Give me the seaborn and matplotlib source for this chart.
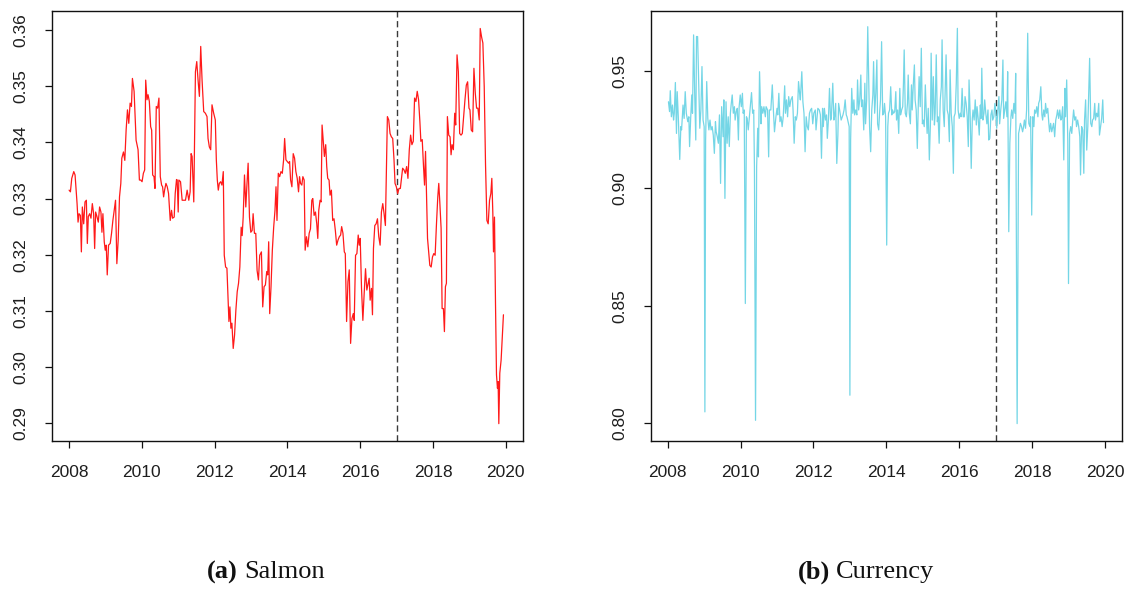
import matplotlib
matplotlib.use("Agg")
import matplotlib.pyplot as plt
import seaborn as sns

# ---------------------------------------------------------------- data
salmon_year = [
    2008.000, 2008.036, 2008.073, 2008.128, 2008.164, 2008.219, 2008.246, 2008.273, 2008.310, 2008.337,
    2008.364, 2008.401, 2008.437, 2008.474, 2008.501, 2008.528, 2008.565, 2008.601, 2008.638, 2008.674,
    2008.702, 2008.729, 2008.765, 2008.802, 2008.838, 2008.875, 2008.902, 2008.929, 2008.966, 2008.993,
    2009.021, 2009.048, 2009.084, 2009.130, 2009.166, 2009.203, 2009.239, 2009.276, 2009.312, 2009.349,
    2009.385, 2009.421, 2009.449, 2009.494, 2009.531, 2009.567, 2009.604, 2009.640, 2009.677, 2009.713,
    2009.740, 2009.786, 2009.841, 2009.895, 2009.932, 2009.968, 2010.005, 2010.041, 2010.077, 2010.105,
    2010.141, 2010.169, 2010.205, 2010.241, 2010.269, 2010.296, 2010.333, 2010.360, 2010.396, 2010.433,
    2010.469, 2010.506, 2010.542, 2010.569, 2010.597, 2010.624, 2010.661, 2010.697, 2010.733, 2010.779,
    2010.815, 2010.843, 2010.888, 2010.916, 2010.952, 2010.970, 2010.998, 2011.016, 2011.062, 2011.107,
    2011.153, 2011.198, 2011.244, 2011.289, 2011.326, 2011.353, 2011.380, 2011.426, 2011.472, 2011.508,
    2011.544, 2011.581, 2011.617, 2011.654, 2011.699, 2011.745, 2011.790, 2011.818, 2011.854, 2011.891,
    2011.927, 2011.973, 2012.018, 2012.046, 2012.073, 2012.100, 2012.128, 2012.164, 2012.200, 2012.237,
    2012.264, 2012.301, 2012.337, 2012.364, 2012.392, 2012.419, 2012.446, 2012.474, 2012.510, 2012.547,
    2012.583, 2012.620, 2012.656, 2012.692, 2012.729, 2012.756, 2012.784, 2012.820, 2012.856, 2012.884,
    2012.920, 2012.957, 2012.993, 2013.030, 2013.057, 2013.093, 2013.130, 2013.166, 2013.203, 2013.239,
    2013.285, 2013.321, 2013.358, 2013.394, 2013.431, 2013.458, 2013.485, 2013.513, 2013.549, 2013.585,
    2013.622, 2013.658, 2013.686, 2013.713, 2013.749, 2013.786, 2013.822, 2013.859, 2013.895, 2013.923,
    2013.959, 2013.995, 2014.032, 2014.059, 2014.087, 2014.123, 2014.159, 2014.196, 2014.232, 2014.269,
    2014.305, 2014.333, 2014.360, 2014.396, 2014.424, 2014.460, 2014.487, 2014.524, 2014.560, 2014.597,
    2014.633, 2014.670, 2014.697, 2014.733, 2014.770, 2014.806, 2014.834, 2014.861, 2014.897, 2014.925,
    2014.952, 2014.989, 2015.016, 2015.052, 2015.080, 2015.107, 2015.144, 2015.171, 2015.208, 2015.244,
    2015.280, 2015.317, 2015.353, 2015.390, 2015.426, 2015.462, 2015.490, 2015.526, 2015.563, 2015.590,
    2015.626, 2015.663, 2015.699, 2015.736, 2015.772, 2015.809, 2015.836, 2015.872, 2015.909, 2015.945,
    2015.973, 2016.000, 2016.036, 2016.073, 2016.109, 2016.146, 2016.182, 2016.210, 2016.246, 2016.273,
    2016.310, 2016.337, 2016.364, 2016.401, 2016.437, 2016.474, 2016.510, 2016.547, 2016.583, 2016.620,
    2016.656, 2016.692, 2016.720, 2016.747, 2016.784, 2016.820, 2016.856, 2016.893, 2016.929, 2016.957,
    2016.993, 2017.030, 2017.066, 2017.103, 2017.166, 2017.203, 2017.239, 2017.276, 2017.312, 2017.349,
    2017.385, 2017.421, 2017.458, 2017.494, 2017.531, 2017.567, 2017.604, 2017.640, 2017.667, 2017.704,
    2017.740, 2017.768, 2017.795, 2017.822, 2017.850, 2017.877, 2017.913, 2017.950, 2017.986, 2018.023,
    2018.059, 2018.096, 2018.132, 2018.159, 2018.187, 2018.223, 2018.251, 2018.287, 2018.314, 2018.342,
    2018.369, 2018.396, 2018.433, 2018.469, 2018.497, 2018.524, 2018.560, 2018.597, 2018.624, 2018.661,
    2018.697, 2018.733, 2018.770, 2018.806, 2018.843, 2018.879, 2018.916, 2018.952, 2018.989, 2019.016,
    2019.052, 2019.089, 2019.125, 2019.162, 2019.198, 2019.235, 2019.271, 2019.298, 2019.335, 2019.371,
    2019.408, 2019.444, 2019.481, 2019.517, 2019.554, 2019.590, 2019.617, 2019.645, 2019.663, 2019.690,
    2019.718, 2019.745, 2019.772, 2019.790, 2019.809, 2019.836, 2019.872, 2019.909, 2019.936,
]
salmon_value = [
    0.3315, 0.3312, 0.3336, 0.3348, 0.3342, 0.3291, 0.3258, 0.3273, 0.3270, 0.3205,
    0.3285, 0.3255, 0.3294, 0.3297, 0.3220, 0.3268, 0.3273, 0.3265, 0.3291, 0.3273,
    0.3211, 0.3276, 0.3268, 0.3258, 0.3285, 0.3276, 0.3240, 0.3273, 0.3223, 0.3208,
    0.3217, 0.3164, 0.3217, 0.3220, 0.3238, 0.3261, 0.3279, 0.3297, 0.3184, 0.3226,
    0.3303, 0.3327, 0.3372, 0.3383, 0.3368, 0.3422, 0.3458, 0.3434, 0.3470, 0.3464,
    0.3514, 0.3491, 0.3404, 0.3387, 0.3333, 0.3333, 0.3330, 0.3345, 0.3351, 0.3511,
    0.3476, 0.3485, 0.3473, 0.3428, 0.3422, 0.3342, 0.3339, 0.3318, 0.3464, 0.3461,
    0.3479, 0.3339, 0.3324, 0.3321, 0.3303, 0.3315, 0.3327, 0.3321, 0.3309, 0.3261,
    0.3279, 0.3265, 0.3267, 0.3309, 0.3334, 0.3333, 0.3276, 0.3333, 0.3330, 0.3297,
    0.3297, 0.3297, 0.3315, 0.3297, 0.3312, 0.3380, 0.3375, 0.3294, 0.3526, 0.3544,
    0.3511, 0.3482, 0.3571, 0.3511, 0.3455, 0.3452, 0.3446, 0.3407, 0.3392, 0.3387,
    0.3467, 0.3452, 0.3440, 0.3369, 0.3333, 0.3315, 0.3327, 0.3330, 0.3324, 0.3348,
    0.3199, 0.3178, 0.3176, 0.3131, 0.3081, 0.3107, 0.3069, 0.3078, 0.3033, 0.3057,
    0.3101, 0.3134, 0.3149, 0.3178, 0.3249, 0.3234, 0.3267, 0.3342, 0.3285, 0.3321,
    0.3363, 0.3267, 0.3240, 0.3243, 0.3273, 0.3238, 0.3238, 0.3172, 0.3155, 0.3199,
    0.3205, 0.3107, 0.3143, 0.3146, 0.3170, 0.3164, 0.3223, 0.3095, 0.3143, 0.3208,
    0.3249, 0.3279, 0.3321, 0.3261, 0.3345, 0.3339, 0.3348, 0.3345, 0.3369, 0.3407,
    0.3369, 0.3366, 0.3363, 0.3366, 0.3333, 0.3321, 0.3380, 0.3372, 0.3348, 0.3336,
    0.3312, 0.3339, 0.3327, 0.3324, 0.3339, 0.3333, 0.3208, 0.3232, 0.3214, 0.3238,
    0.3246, 0.3297, 0.3300, 0.3270, 0.3276, 0.3255, 0.3229, 0.3279, 0.3297, 0.3294,
    0.3431, 0.3398, 0.3375, 0.3396, 0.3357, 0.3336, 0.3333, 0.3306, 0.3315, 0.3261,
    0.3264, 0.3243, 0.3217, 0.3226, 0.3232, 0.3235, 0.3250, 0.3238, 0.3205, 0.3202,
    0.3081, 0.3152, 0.3173, 0.3042, 0.3086, 0.3095, 0.3083, 0.3199, 0.3202, 0.3235,
    0.3217, 0.3229, 0.3140, 0.3083, 0.3131, 0.3175, 0.3137, 0.3146, 0.3158, 0.3119,
    0.3140, 0.3093, 0.3211, 0.3252, 0.3255, 0.3264, 0.3232, 0.3217, 0.3276, 0.3291,
    0.3273, 0.3252, 0.3350, 0.3446, 0.3440, 0.3416, 0.3410, 0.3407, 0.3369, 0.3327,
    0.3321, 0.3309, 0.3318, 0.3318, 0.3354, 0.3351, 0.3345, 0.3357, 0.3336, 0.3387,
    0.3413, 0.3396, 0.3402, 0.3479, 0.3473, 0.3491, 0.3476, 0.3437, 0.3402, 0.3405,
    0.3357, 0.3324, 0.3384, 0.3309, 0.3229, 0.3208, 0.3181, 0.3178, 0.3196, 0.3202,
    0.3199, 0.3255, 0.3303, 0.3327, 0.3294, 0.3247, 0.3104, 0.3104, 0.3063, 0.3143,
    0.3149, 0.3446, 0.3413, 0.3410, 0.3378, 0.3396, 0.3387, 0.3452, 0.3431, 0.3556,
    0.3526, 0.3416, 0.3413, 0.3416, 0.3446, 0.3476, 0.3502, 0.3508, 0.3461, 0.3458,
    0.3422, 0.3419, 0.3532, 0.3488, 0.3461, 0.3461, 0.3440, 0.3603, 0.3588, 0.3577,
    0.3500, 0.3360, 0.3261, 0.3255, 0.3297, 0.3309, 0.3336, 0.3273, 0.3205, 0.3267,
    0.3113, 0.2986, 0.2962, 0.2974, 0.2899, 0.2989, 0.3012, 0.3057, 0.3093,
]

currency_year = [
    2008.02, 2008.05, 2008.07, 2008.10, 2008.13, 2008.16, 2008.18, 2008.21, 2008.24, 2008.26,
    2008.29, 2008.33, 2008.36, 2008.38, 2008.42, 2008.45, 2008.48, 2008.51, 2008.55, 2008.58,
    2008.60, 2008.63, 2008.66, 2008.68, 2008.71, 2008.74, 2008.77, 2008.79, 2008.82, 2008.85,
    2008.88, 2008.91, 2008.94, 2008.97, 2009.00, 2009.02, 2009.04, 2009.07, 2009.10, 2009.13,
    2009.16, 2009.19, 2009.22, 2009.25, 2009.28, 2009.31, 2009.33, 2009.36, 2009.39, 2009.42,
    2009.45, 2009.48, 2009.52, 2009.54, 2009.57, 2009.60, 2009.63, 2009.66, 2009.69, 2009.72,
    2009.74, 2009.77, 2009.80, 2009.83, 2009.85, 2009.88, 2009.91, 2009.94, 2009.96, 2009.99,
    2010.02, 2010.05, 2010.07, 2010.10, 2010.13, 2010.16, 2010.18, 2010.21, 2010.25, 2010.27,
    2010.30, 2010.33, 2010.36, 2010.38, 2010.41, 2010.44, 2010.47, 2010.49, 2010.52, 2010.56,
    2010.58, 2010.61, 2010.64, 2010.68, 2010.70, 2010.74, 2010.77, 2010.79, 2010.83, 2010.87,
    2010.90, 2010.93, 2010.97, 2011.00, 2011.02, 2011.05, 2011.08, 2011.11, 2011.14, 2011.17,
    2011.21, 2011.23, 2011.26, 2011.29, 2011.32, 2011.35, 2011.38, 2011.42, 2011.44, 2011.47,
    2011.50, 2011.53, 2011.56, 2011.59, 2011.62, 2011.64, 2011.68, 2011.71, 2011.74, 2011.77,
    2011.80, 2011.83, 2011.86, 2011.89, 2011.92, 2011.95, 2011.98, 2012.01, 2012.05, 2012.07,
    2012.12, 2012.16, 2012.19, 2012.22, 2012.25, 2012.27, 2012.30, 2012.33, 2012.36, 2012.38,
    2012.41, 2012.44, 2012.47, 2012.49, 2012.53, 2012.56, 2012.58, 2012.61, 2012.64, 2012.67,
    2012.69, 2012.73, 2012.76, 2012.79, 2012.81, 2012.84, 2012.87, 2012.90, 2012.92, 2012.95,
    2012.98, 2013.00, 2013.02, 2013.05, 2013.08, 2013.11, 2013.13, 2013.16, 2013.19, 2013.21,
    2013.24, 2013.27, 2013.30, 2013.32, 2013.35, 2013.38, 2013.41, 2013.43, 2013.46, 2013.49,
    2013.52, 2013.54, 2013.57, 2013.60, 2013.63, 2013.65, 2013.68, 2013.71, 2013.74, 2013.76,
    2013.79, 2013.82, 2013.84, 2013.87, 2013.90, 2013.93, 2013.95, 2013.98, 2014.01, 2014.04,
    2014.06, 2014.09, 2014.12, 2014.15, 2014.17, 2014.20, 2014.23, 2014.26, 2014.28, 2014.31,
    2014.34, 2014.37, 2014.39, 2014.42, 2014.45, 2014.47, 2014.49, 2014.52, 2014.55, 2014.58,
    2014.60, 2014.63, 2014.66, 2014.69, 2014.71, 2014.74, 2014.77, 2014.79, 2014.82, 2014.85,
    2014.88, 2014.90, 2014.93, 2014.96, 2014.99, 2015.01, 2015.04, 2015.07, 2015.10, 2015.12,
    2015.15, 2015.18, 2015.21, 2015.23, 2015.26, 2015.29, 2015.32, 2015.34, 2015.37, 2015.40,
    2015.42, 2015.45, 2015.48, 2015.51, 2015.53, 2015.56, 2015.59, 2015.62, 2015.64, 2015.67,
    2015.70, 2015.73, 2015.75, 2015.78, 2015.81, 2015.84, 2015.86, 2015.89, 2015.92, 2015.95,
    2015.97, 2016.00, 2016.03, 2016.05, 2016.08, 2016.11, 2016.14, 2016.16, 2016.19, 2016.22,
    2016.25, 2016.27, 2016.30, 2016.33, 2016.36, 2016.38, 2016.41, 2016.44, 2016.47, 2016.49,
    2016.52, 2016.55, 2016.58, 2016.60, 2016.62, 2016.65, 2016.68, 2016.70, 2016.73, 2016.76,
    2016.79, 2016.81, 2016.84, 2016.87, 2016.90, 2016.92, 2016.95, 2016.98, 2017.00, 2017.03,
    2017.06, 2017.09, 2017.11, 2017.14, 2017.17, 2017.20, 2017.22, 2017.25, 2017.28, 2017.31,
    2017.33, 2017.36, 2017.39, 2017.42, 2017.44, 2017.47, 2017.50, 2017.53, 2017.55, 2017.59,
    2017.63, 2017.65, 2017.68, 2017.71, 2017.74, 2017.76, 2017.79, 2017.82, 2017.85, 2017.88,
    2017.91, 2017.94, 2017.96, 2017.99, 2018.02, 2018.05, 2018.07, 2018.10, 2018.13, 2018.16,
    2018.18, 2018.21, 2018.24, 2018.27, 2018.29, 2018.32, 2018.35, 2018.37, 2018.40, 2018.43,
    2018.46, 2018.48, 2018.51, 2018.54, 2018.57, 2018.59, 2018.62, 2018.65, 2018.68, 2018.70,
    2018.73, 2018.76, 2018.79, 2018.81, 2018.84, 2018.87, 2018.90, 2018.92, 2018.95, 2018.98,
    2019.00, 2019.03, 2019.06, 2019.09, 2019.11, 2019.14, 2019.17, 2019.20, 2019.22, 2019.25,
    2019.28, 2019.31, 2019.33, 2019.36, 2019.39, 2019.42, 2019.44, 2019.47, 2019.50, 2019.53,
    2019.55, 2019.58, 2019.61, 2019.64, 2019.66, 2019.69, 2019.72, 2019.74, 2019.77, 2019.80,
    2019.83, 2019.85, 2019.88, 2019.91, 2019.94, 2019.96,
]
currency_value = [
    0.9369, 0.9327, 0.9416, 0.9305, 0.9355, 0.9291, 0.9320, 0.9451, 0.9234, 0.9412,
    0.9305, 0.9123, 0.9263, 0.9249, 0.9355, 0.9298, 0.9412, 0.9320, 0.9284, 0.9305,
    0.9178, 0.9298, 0.9398, 0.9320, 0.9654, 0.9405, 0.9206, 0.9647, 0.9647, 0.9448,
    0.9256, 0.9334, 0.9519, 0.9291, 0.9263, 0.8047, 0.9206, 0.9455, 0.9298, 0.9249,
    0.9291, 0.9249, 0.9263, 0.9227, 0.9149, 0.9284, 0.9241, 0.9220, 0.9192, 0.9313,
    0.9021, 0.9348, 0.9220, 0.9377, 0.8957, 0.9369, 0.9192, 0.9305, 0.9178, 0.9320,
    0.9355, 0.9398, 0.9320, 0.9348, 0.9291, 0.9327, 0.9341, 0.9206, 0.9348, 0.9398,
    0.9348, 0.9405, 0.9320, 0.9334, 0.8509, 0.9305, 0.9298, 0.9249, 0.9320, 0.9355,
    0.9408, 0.9320, 0.9334, 0.9092, 0.8011, 0.9092, 0.9256, 0.9134, 0.9497, 0.9275,
    0.9348, 0.9320, 0.9348, 0.9305, 0.9348, 0.9334, 0.9134, 0.9334, 0.9334, 0.9441,
    0.9334, 0.9241, 0.9305, 0.9341, 0.9313, 0.9405, 0.9284, 0.9305, 0.9263, 0.9305,
    0.9437, 0.9320, 0.9377, 0.9305, 0.9391, 0.9348, 0.9377, 0.9391, 0.9334, 0.9192,
    0.9305, 0.9291, 0.9320, 0.9455, 0.9405, 0.9377, 0.9497, 0.9369, 0.9320, 0.9156,
    0.9305, 0.9263, 0.9249, 0.9320, 0.9334, 0.9341, 0.9275, 0.9320, 0.9334, 0.9249,
    0.9341, 0.9334, 0.9313, 0.9128, 0.9341, 0.9263, 0.9341, 0.9291, 0.9313, 0.9213,
    0.9291, 0.9426, 0.9291, 0.9298, 0.9448, 0.9291, 0.9305, 0.9362, 0.9106, 0.9227,
    0.9362, 0.9320, 0.9291, 0.9305, 0.9313, 0.9334, 0.9377, 0.9313, 0.9305, 0.9284,
    0.9263, 0.8118, 0.9206, 0.9426, 0.9320, 0.9377, 0.9313, 0.9334, 0.9313, 0.9462,
    0.9334, 0.9377, 0.9483, 0.9348, 0.9377, 0.9249, 0.9448, 0.9275, 0.9377, 0.9689,
    0.9433, 0.9263, 0.9156, 0.9334, 0.9398, 0.9540, 0.9320, 0.9405, 0.9547, 0.9275,
    0.9249, 0.9334, 0.9377, 0.9625, 0.9313, 0.9320, 0.9362, 0.9305, 0.8758, 0.9263,
    0.9320, 0.9334, 0.9433, 0.9313, 0.9334, 0.9320, 0.9327, 0.9412, 0.9291, 0.9334,
    0.9234, 0.9426, 0.9313, 0.9334, 0.9348, 0.9448, 0.9590, 0.9320, 0.9305, 0.9362,
    0.9483, 0.9320, 0.9275, 0.9441, 0.9334, 0.9441, 0.9526, 0.9377, 0.9334, 0.9170,
    0.9377, 0.9476, 0.9348, 0.9597, 0.9275, 0.9291, 0.9263, 0.9441, 0.9305, 0.9234,
    0.9341, 0.9121, 0.9275, 0.9576, 0.9291, 0.9476, 0.9270, 0.9320, 0.9569, 0.9284,
    0.9305, 0.9192, 0.9377, 0.9433, 0.9633, 0.9334, 0.9263, 0.9448, 0.9569, 0.9334,
    0.9313, 0.9199, 0.9505, 0.9320, 0.9263, 0.9064, 0.9305, 0.9320, 0.9448, 0.9682,
    0.9334, 0.9298, 0.9320, 0.9305, 0.9426, 0.9305, 0.9305, 0.9391, 0.9362, 0.9305,
    0.9178, 0.9462, 0.9320, 0.9085, 0.9298, 0.9334, 0.9291, 0.9377, 0.9270, 0.9348,
    0.9298, 0.9227, 0.9355, 0.9298, 0.9512, 0.9291, 0.9320, 0.9377, 0.9320, 0.9275,
    0.9334, 0.9206, 0.9213, 0.9313, 0.9334, 0.9291, 0.9305, 0.9362, 0.9334, 0.9256,
    0.9334, 0.9391, 0.9275, 0.9334, 0.9377, 0.9547, 0.9298, 0.9334, 0.9369, 0.9305,
    0.9497, 0.8815, 0.9192, 0.9305, 0.9334, 0.9298, 0.9362, 0.9320, 0.9490, 0.7997,
    0.9234, 0.9249, 0.9277, 0.9263, 0.9241, 0.9256, 0.9291, 0.9256, 0.9334, 0.9661,
    0.9277, 0.9263, 0.9305, 0.8886, 0.9305, 0.9263, 0.9334, 0.9320, 0.9348, 0.9305,
    0.9362, 0.9377, 0.9433, 0.9313, 0.9291, 0.9334, 0.9305, 0.9362, 0.9320, 0.9341,
    0.9277, 0.9241, 0.9277, 0.9241, 0.9263, 0.9277, 0.9220, 0.9291, 0.9313, 0.9334,
    0.9298, 0.9334, 0.9291, 0.9298, 0.9348, 0.9121, 0.9426, 0.9305, 0.9462, 0.9200,
    0.8594, 0.9234, 0.9263, 0.9234, 0.9277, 0.9334, 0.9291, 0.9305, 0.9263, 0.9291,
    0.9263, 0.9220, 0.9057, 0.9263, 0.9249, 0.9064, 0.9291, 0.9377, 0.9163, 0.9263,
    0.9377, 0.9554, 0.9277, 0.9263, 0.9291, 0.9298, 0.9362, 0.9291, 0.9320, 0.9305,
    0.9362, 0.9227, 0.9263, 0.9298, 0.9377, 0.9280,
]

year_ticks = [2008, 2010, 2012, 2014, 2016, 2018, 2020]
salmon_ticks = [0.29, 0.30, 0.31, 0.32, 0.33, 0.34, 0.35, 0.36]
currency_ticks = [0.80, 0.85, 0.90, 0.95]
split_year = 2017
panel_tags = ["(a)", "(b)"]
panel_names = ["Salmon", "Currency"]

# ---------------------------------------------------------------- style
sns.set_theme(style="white")
plt.rcParams["font.family"] = ["Liberation Sans", "DejaVu Sans"]

W, H = 1128, 590
fig = plt.figure(figsize=(W / 100, H / 100), dpi=100)


def frac_box(x0, x1, y0, y1):
    return [x0 / W, 1 - y1 / H, (x1 - x0) / W, (y1 - y0) / H]


ax_s = fig.add_axes(frac_box(52, 522.5, 10.5, 440.5))
ax_c = fig.add_axes(frac_box(650.6, 1121.7, 10.5, 440.5))

sns.lineplot(x=salmon_year, y=salmon_value, ax=ax_s, color="#ff1a1a",
             linewidth=0.9, estimator=None, sort=False)
sns.lineplot(x=currency_year, y=currency_value, ax=ax_c, color="#74d6e6",
             linewidth=0.9, estimator=None, sort=False)

limits = [(ax_s, (0.2869, 0.3635), salmon_ticks, "{:.2f}"),
          (ax_c, (0.7925, 0.9758), currency_ticks, "{:.2f}")]

for ax, ylim, yt, fmt in limits:
    ax.axvline(split_year, color="#3a3a3a", linewidth=1.0,
               linestyle=(0, (4.5, 2.6)), zorder=1)
    ax.set_xlim(2007.53, 2020.46)
    ax.set_ylim(*ylim)
    ax.set_xticks(year_ticks)
    ax.set_xticklabels([str(y) for y in year_ticks])
    ax.set_yticks(yt)
    ax.set_yticklabels([fmt.format(v) for v in yt], rotation=90, va="center")
    ax.set_xlabel("")
    ax.set_ylabel("")
    for sp in ax.spines.values():
        sp.set_visible(True)
        sp.set_color("#111111")
        sp.set_linewidth(1.0)
    ax.tick_params(axis="both", which="major", direction="out", length=4.8,
                   width=0.9, color="#111111", labelsize=12.5,
                   labelcolor="#1e1e1e", bottom=True, left=True)
    ax.tick_params(axis="x", pad=13)
    ax.tick_params(axis="y", pad=12)
    ax.set_facecolor("white")
    ax.grid(False)

# ---------------------------------------------------------------- captions
serif = ["Liberation Serif", "DejaVu Serif"]
fig.canvas.draw()
renderer = fig.canvas.get_renderer()
cap_y = 1 - 572 / H
for tag, name, cx in zip(panel_tags, panel_names, [266, 866]):
    t1 = fig.text(0, cap_y, tag, family=serif, fontsize=19, fontweight="bold",
                  va="center", ha="left", color="#111111")
    t2 = fig.text(0, cap_y, name, family=serif, fontsize=19,
                  va="center", ha="left", color="#111111")
    w1 = t1.get_window_extent(renderer).width
    w2 = t2.get_window_extent(renderer).width
    gap = 6
    x0 = cx - (w1 + gap + w2) / 2
    t1.set_x(x0 / W)
    t2.set_x((x0 + w1 + gap) / W)

fig.savefig("out.png", dpi=100, facecolor="white")
